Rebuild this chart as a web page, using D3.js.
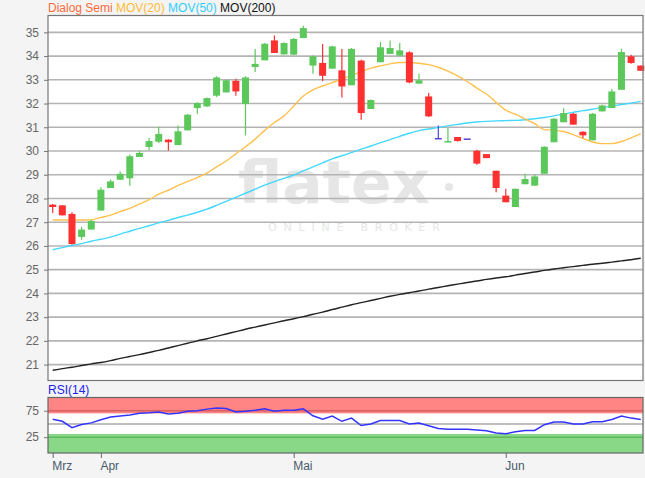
<!DOCTYPE html>
<html><head><meta charset="utf-8">
<script src="https://cdn.jsdelivr.net/npm/d3@7/dist/d3.min.js"></script>
<style>
html,body{margin:0;padding:0;background:#f4f4f4;}
svg{display:block;font-family:"Liberation Sans",Arial,sans-serif;}
</style></head>
<body>
<svg id="chart" width="645" height="478"></svg>
<script>
const dates = ["2019-03-25","2019-03-26","2019-03-27","2019-03-28","2019-03-29",
"2019-04-01","2019-04-02","2019-04-03","2019-04-04","2019-04-05",
"2019-04-08","2019-04-09","2019-04-10","2019-04-11","2019-04-12",
"2019-04-15","2019-04-16","2019-04-17","2019-04-18",
"2019-04-23","2019-04-24","2019-04-25","2019-04-26","2019-04-29","2019-04-30",
"2019-05-02","2019-05-03","2019-05-06","2019-05-07","2019-05-08","2019-05-09","2019-05-10",
"2019-05-13","2019-05-14","2019-05-15","2019-05-16","2019-05-17",
"2019-05-20","2019-05-21","2019-05-22","2019-05-23","2019-05-24",
"2019-05-27","2019-05-28","2019-05-29","2019-05-30","2019-05-31",
"2019-06-03","2019-06-04","2019-06-05","2019-06-06","2019-06-07",
"2019-06-10","2019-06-11","2019-06-12","2019-06-13","2019-06-14",
"2019-06-17","2019-06-18","2019-06-19","2019-06-20","2019-06-21"];
const open  = [27.74,27.71,27.35,26.38,26.69,27.49,28.44,28.79,28.85,29.75,30.17,30.39,30.48,30.25,30.87,31.81,31.88,32.33,32.47,32.96,31.98,33.54,33.82,34.66,34.07,34.06,34.76,33.60,33.71,33.47,33.40,32.77,33.81,31.77,33.74,34.09,34.02,34.16,32.84,32.30,30.55,30.37,30.59,30.53,30.01,29.87,29.17,28.12,27.64,28.60,28.54,29.04,30.37,31.21,31.57,30.81,30.45,31.67,31.81,32.58,33.99,33.60];
const high  = [27.77,27.72,27.42,26.80,27.10,28.47,28.79,29.14,29.85,30.00,30.55,31.01,30.50,31.08,31.56,32.05,32.26,33.15,33.01,33.05,33.15,34.30,34.55,34.87,34.58,34.76,35.28,34.02,34.51,34.44,34.30,34.34,33.85,32.17,34.59,34.66,34.55,34.20,33.26,32.44,31.07,30.97,30.59,30.53,30.05,29.87,29.17,28.41,28.41,29.04,29.00,30.20,31.39,31.80,31.60,30.83,31.60,31.95,32.61,34.31,34.06,33.60];
const low   = [27.39,27.28,26.05,26.26,26.69,27.49,28.44,28.79,28.54,29.75,30.03,30.34,30.01,30.25,30.87,31.57,31.85,32.28,32.47,32.33,30.66,33.33,33.82,34.13,34.07,34.03,34.76,33.26,32.94,33.47,32.26,32.77,31.32,31.77,33.74,34.09,34.02,32.86,32.84,31.43,30.55,30.37,30.40,30.53,29.42,29.70,28.26,27.84,27.64,28.60,28.54,29.04,30.37,31.21,31.11,30.55,30.45,31.67,31.81,32.58,33.68,33.38];
const close = [27.64,27.29,26.08,26.69,27.05,28.37,28.72,29.04,29.78,29.92,30.42,30.72,30.37,30.83,31.53,32.02,32.23,33.10,32.98,32.51,33.10,33.67,34.52,34.13,34.55,34.72,35.18,33.99,33.17,34.41,32.72,34.30,31.60,32.15,34.37,34.34,34.24,32.89,32.98,31.46,30.55,30.42,30.42,30.53,29.47,29.70,28.44,27.84,28.41,28.82,28.93,30.18,31.36,31.60,31.11,30.66,31.57,31.92,32.51,34.17,33.71,33.38];
const mov20 = [27.09,27.09,27.09,27.09,27.10,27.20,27.30,27.45,27.58,27.77,27.95,28.18,28.35,28.55,28.72,28.88,29.07,29.33,29.58,29.88,30.18,30.50,30.87,31.20,31.48,31.90,32.32,32.58,32.74,32.88,33.04,33.18,33.34,33.49,33.59,33.67,33.73,33.73,33.70,33.64,33.53,33.37,33.17,32.93,32.65,32.40,32.05,31.72,31.55,31.35,31.15,30.90,30.88,30.82,30.69,30.53,30.38,30.31,30.31,30.40,30.55,30.73];
const mov50 = [25.84,25.93,26.02,26.10,26.20,26.28,26.37,26.50,26.62,26.74,26.85,26.97,27.08,27.20,27.30,27.42,27.55,27.71,27.88,28.05,28.22,28.39,28.56,28.71,28.85,28.99,29.16,29.33,29.50,29.67,29.80,29.94,30.08,30.21,30.35,30.48,30.62,30.75,30.86,30.93,30.99,31.06,31.12,31.18,31.22,31.25,31.27,31.28,31.29,31.32,31.36,31.41,31.48,31.56,31.63,31.70,31.76,31.83,31.89,31.96,32.02,32.09];
const mov200 = [20.76,20.83,20.89,20.96,21.03,21.09,21.17,21.26,21.34,21.42,21.51,21.60,21.70,21.80,21.90,22.00,22.09,22.19,22.29,22.39,22.49,22.58,22.67,22.76,22.85,22.93,23.02,23.12,23.21,23.32,23.42,23.52,23.61,23.70,23.79,23.88,23.96,24.03,24.10,24.18,24.25,24.32,24.39,24.46,24.52,24.59,24.65,24.70,24.77,24.84,24.90,24.97,25.03,25.08,25.13,25.18,25.23,25.27,25.32,25.37,25.42,25.48];
const rsi = [59,55,43,49,52,58,63,65,67,70,71,72.5,69,70,74,75,78,80,79,72.5,74,76,78.6,74,76,76,78.6,65.5,59,65,55,61,47,50,56.6,56.6,56.6,50,51.7,46.6,41.5,40,40,40,38.5,37,33,31.5,35,37.7,37.7,48.5,53.6,53.6,50,49.7,54,54,58.5,65,61,58.5];
const priceTicks = [21,22,23,24,25,26,27,28,29,30,31,32,33,34,35];
const rsiTicks = [25,75];
const monthTicks = ["2019-03-25","2019-04-01","2019-05-02","2019-06-03"];
const monthLabels = ["Mrz","Apr","Mai","Jun"];
const legend = [["Dialog Semi","#ff6a3d"],["MOV(20)","#ffbb33"],["MOV(50)","#33ccff"],["MOV(200)","#111111"]];

const svg = d3.select("#chart");
const L = 48, R = 643, T = 15.5, B = 380.5;
const RT = 397.5, RB = 453;

const step = 9.64;
const x = d3.scalePoint().domain(dates).range([L + 4.7, L + 4.7 + step*(dates.length-1)]);
const y = d3.scaleLinear().domain([20.33, 35.71]).range([B, T]);
const yr = d3.scaleLinear().domain([-5, 100]).range([RB, RT]);

svg.append("rect").attr("x",L).attr("y",T).attr("width",R-L).attr("height",B-T).attr("fill","#fff");

// watermark
const wm = svg.append("g").attr("fill","#e6e6e6");
wm.append("text").attr("x",238).attr("y",203).attr("font-family","DejaVu Sans, sans-serif")
  .attr("font-size",58).attr("font-weight","bold").attr("textLength",192).attr("lengthAdjust","spacingAndGlyphs").text("flatex");
wm.append("circle").attr("cx",449).attr("cy",187).attr("r",4);
wm.append("text").attr("x",268).attr("y",231).attr("font-family","DejaVu Sans, sans-serif")
  .attr("font-size",11).attr("textLength",172).attr("lengthAdjust","spacing").text("ONLINE BROKER");

const yAxis = d3.axisLeft(y).tickValues(priceTicks).tickSize(4).tickPadding(5).tickFormat(d3.format("d"));
svg.append("g").attr("class","grid").selectAll("line").data(priceTicks).join("line")
  .attr("x1",L).attr("x2",R).attr("y1",d=>y(d)).attr("y2",d=>y(d))
  .attr("stroke","#b4b4b4").attr("stroke-width",1.6);
const ga = svg.append("g").attr("transform",`translate(${L},0)`).call(yAxis);
ga.select(".domain").remove();
ga.selectAll("line").attr("stroke","#777");
ga.selectAll("text").attr("fill","#666").attr("font-size",12);

const line = arr => d3.line().x((d,i)=>x(dates[i])).y(d=>y(d)).curve(d3.curveMonotoneX)(arr);
svg.append("path").attr("d",line(mov200)).attr("fill","none").attr("stroke","#222").attr("stroke-width",1.4);
svg.append("path").attr("d",line(mov50)).attr("fill","none").attr("stroke","#44d8ff").attr("stroke-width",1.4);
svg.append("path").attr("d",line(mov20)).attr("fill","none").attr("stroke","#ffc04d").attr("stroke-width",1.4);

const colorOf = i => close[i] > open[i] ? "#5cc85c" : (close[i] < open[i] ? "#ff3030" : "#5544dd");
const cg = svg.append("g");
const idx = d3.range(dates.length);
cg.selectAll("line.wick").data(idx).join("line").attr("class","wick")
  .attr("x1",i=>x(dates[i])).attr("x2",i=>x(dates[i]))
  .attr("y1",i=>y(high[i])).attr("y2",i=>y(low[i]))
  .attr("stroke",colorOf).attr("stroke-width",1.2);
cg.selectAll("rect.body").data(idx).join("rect").attr("class","body")
  .attr("x",i=>x(dates[i])-3.5).attr("width",7)
  .attr("y",i=>y(Math.max(open[i],close[i])))
  .attr("height",i=>Math.max(1.5, Math.abs(y(open[i])-y(close[i]))))
  .attr("fill",colorOf);

svg.append("rect").attr("x",L).attr("y",T).attr("width",R-L).attr("height",B-T)
  .attr("fill","none").attr("stroke","#777").attr("stroke-width",1.2);

const lt = svg.append("text").attr("x",L).attr("y",12).attr("font-size",12);
legend.forEach(([t,c],k)=>lt.append("tspan").attr("fill",c).text((k?" ":"")+t));

svg.append("rect").attr("x",L).attr("y",RT).attr("width",R-L).attr("height",RB-RT).attr("fill","#fff");
svg.append("rect").attr("x",L).attr("y",yr(100)).attr("width",R-L).attr("height",yr(70)-yr(100)).attr("fill","#ff8484");
svg.append("rect").attr("x",L).attr("y",yr(31)).attr("width",R-L).attr("height",RB-yr(31)).attr("fill","#88d888");
svg.append("line").attr("x1",L).attr("x2",R).attr("y1",yr(75)).attr("y2",yr(75)).attr("stroke","#d86060").attr("stroke-width",1.5);
svg.append("line").attr("x1",L).attr("x2",R).attr("y1",yr(25)).attr("y2",yr(25)).attr("stroke","#5fb85f").attr("stroke-width",1.5);
svg.append("line").attr("x1",L).attr("x2",R).attr("y1",yr(50)).attr("y2",yr(50)).attr("stroke","#aaaaaa").attr("stroke-width",1.5);
svg.append("path").attr("d",d3.line().x((d,i)=>x(dates[i])).y(d=>yr(d))(rsi))
  .attr("fill","none").attr("stroke","#3333ff").attr("stroke-width",1.5);
svg.append("rect").attr("x",L).attr("y",RT).attr("width",R-L).attr("height",RB-RT)
  .attr("fill","none").attr("stroke","#666").attr("stroke-width",1.2);
const ra = svg.append("g").attr("transform",`translate(${L},0)`)
  .call(d3.axisLeft(yr).tickValues(rsiTicks).tickSize(4).tickPadding(5));
ra.select(".domain").remove();
ra.selectAll("line").attr("stroke","#777");
ra.selectAll("text").attr("fill","#666").attr("font-size",12);
svg.append("text").attr("x",L).attr("y",394).attr("font-size",12).attr("fill","#2222ee").text("RSI(14)");

const xa = svg.append("g").attr("transform",`translate(0,${RB})`)
  .call(d3.axisBottom(x).tickValues(monthTicks).tickSize(5).tickPadding(3)
    .tickFormat(d=>monthLabels[monthTicks.indexOf(d)]));
xa.select(".domain").remove();
xa.selectAll("line").attr("stroke","#667");
xa.selectAll("text").attr("fill","#4a5a6a").attr("font-size",12).attr("text-anchor","start").attr("dx",-1);
</script>
</body></html>
